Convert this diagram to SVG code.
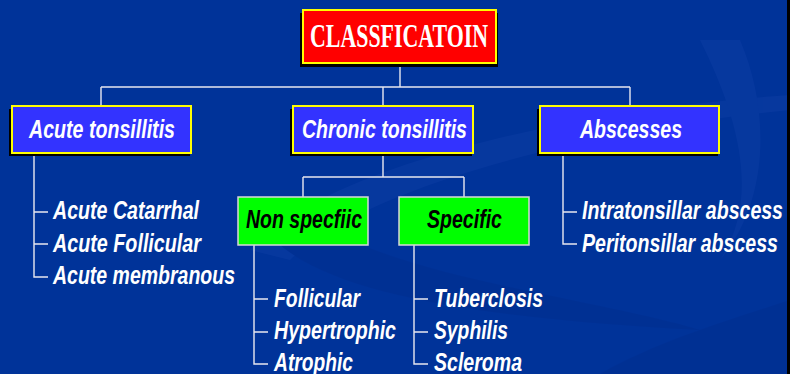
<svg xmlns="http://www.w3.org/2000/svg" width="790" height="374" viewBox="0 0 790 374">
<style>
.conn{fill:none;stroke:#e8e8f0;stroke-width:1.4}
.shadow{fill:#000}
.blue{fill:#3333ff;stroke:#ffff00;stroke-width:2}
.green{fill:#00ff00;stroke:#d8d8d8;stroke-width:1.5}
.red{fill:#ff0000;stroke:#ffff00;stroke-width:2}
.lbl{font-family:"Liberation Sans",Arial,sans-serif;font-weight:bold;font-style:italic;font-size:26px;fill:#ffffff}
.glbl{font-family:"Liberation Sans",Arial,sans-serif;font-weight:bold;font-style:italic;font-size:26px;fill:#000000}
.item{font-family:"Liberation Sans",Arial,sans-serif;font-weight:bold;font-style:italic;font-size:25px;fill:#ffffff}
.title{font-family:"Liberation Serif","Times New Roman",serif;font-weight:bold;font-size:33px;fill:#ffffff}
</style>
<rect x="0" y="0" width="790" height="374" fill="#003399"/>
<g id="background" opacity="0.25">
<path d="M250 250 C 320 170, 560 110, 790 95 L790 110 C 580 130, 360 190, 290 260 Z" fill="#1a47b0"/>
<path d="M260 220 C 300 300, 520 320, 700 330 C 600 300, 420 280, 330 230 Z" fill="#002a85"/>
<path d="M600 374 C 660 340, 730 320, 790 300 L790 374 Z" fill="#002a85"/>
<path d="M700 40 C 740 120, 760 200, 720 260 C 770 200, 770 110, 740 40 Z" fill="#1a47b0"/>
</g>
<rect x="787" y="0" width="3" height="374" fill="#000"/>
<g id="connectors">
<path class="conn" d="M400 63 V87 M101 87 H630 M101 87 V106 M383 87 V106 M630 87 V106"/>
<path class="conn" d="M34 153 V277 H48 M34 212 H48 M34 244 H48"/>
<path class="conn" d="M383 153 V177 M303 177 H464 M303 177 V197 M464 177 V197"/>
<path class="conn" d="M254 245 V364 H268 M254 299 H268 M254 332 H268"/>
<path class="conn" d="M414 245 V364 H428 M414 299 H428 M414 332 H428"/>
<path class="conn" d="M563 153 V244 H577 M563 212 H577"/>
</g>
<g id="classification">
<rect class="shadow" x="300" y="13" width="198" height="54"/>
<rect class="red" x="303" y="10" width="193" height="53"/>
<text class="title" x="310" y="47" textLength="178" lengthAdjust="spacingAndGlyphs">CLASSFICATOIN</text>
</g>
<g id="acute">
<rect class="shadow" x="9" y="109" width="181" height="47"/>
<rect class="blue" x="12" y="106" width="179" height="47"/>
<text class="lbl" x="29" y="138" textLength="146" lengthAdjust="spacingAndGlyphs">Acute tonsillitis</text>
</g>
<g id="chronic">
<rect class="shadow" x="290" y="109" width="182" height="47"/>
<rect class="blue" x="293" y="106" width="180" height="47"/>
<text class="lbl" x="302" y="138" textLength="165" lengthAdjust="spacingAndGlyphs">Chronic tonsillitis</text>
</g>
<g id="abscesses">
<rect class="shadow" x="537" y="109" width="181" height="47"/>
<rect class="blue" x="540" y="106" width="179" height="47"/>
<text class="lbl" x="580" y="138" textLength="102" lengthAdjust="spacingAndGlyphs">Abscesses</text>
</g>
<g id="nonspecific">
<rect class="green" x="238" y="197" width="130" height="48"/>
<text class="glbl" x="246" y="228" textLength="116" lengthAdjust="spacingAndGlyphs">Non specfiic</text>
</g>
<g id="specific">
<rect class="green" x="399" y="197" width="130" height="48"/>
<text class="glbl" x="427" y="228" textLength="75" lengthAdjust="spacingAndGlyphs">Specific</text>
</g>
<g id="acute-items">
<text class="item" x="53" y="219" textLength="146" lengthAdjust="spacingAndGlyphs">Acute Catarrhal</text>
<text class="item" x="53" y="252" textLength="148" lengthAdjust="spacingAndGlyphs">Acute Follicular</text>
<text class="item" x="53" y="284" textLength="182" lengthAdjust="spacingAndGlyphs">Acute membranous</text>
</g>
<g id="nonspecific-items">
<text class="item" x="274" y="307" textLength="86" lengthAdjust="spacingAndGlyphs">Follicular</text>
<text class="item" x="274" y="339" textLength="122" lengthAdjust="spacingAndGlyphs">Hypertrophic</text>
<text class="item" x="274" y="371" textLength="79" lengthAdjust="spacingAndGlyphs">Atrophic</text>
</g>
<g id="specific-items">
<text class="item" x="434" y="307" textLength="109" lengthAdjust="spacingAndGlyphs">Tuberclosis</text>
<text class="item" x="434" y="339" textLength="74" lengthAdjust="spacingAndGlyphs">Syphilis</text>
<text class="item" x="434" y="371" textLength="88" lengthAdjust="spacingAndGlyphs">Scleroma</text>
</g>
<g id="abscess-items">
<text class="item" x="582" y="219" textLength="201" lengthAdjust="spacingAndGlyphs">Intratonsillar abscess</text>
<text class="item" x="582" y="252" textLength="196" lengthAdjust="spacingAndGlyphs">Peritonsillar abscess</text>
</g>
</svg>
